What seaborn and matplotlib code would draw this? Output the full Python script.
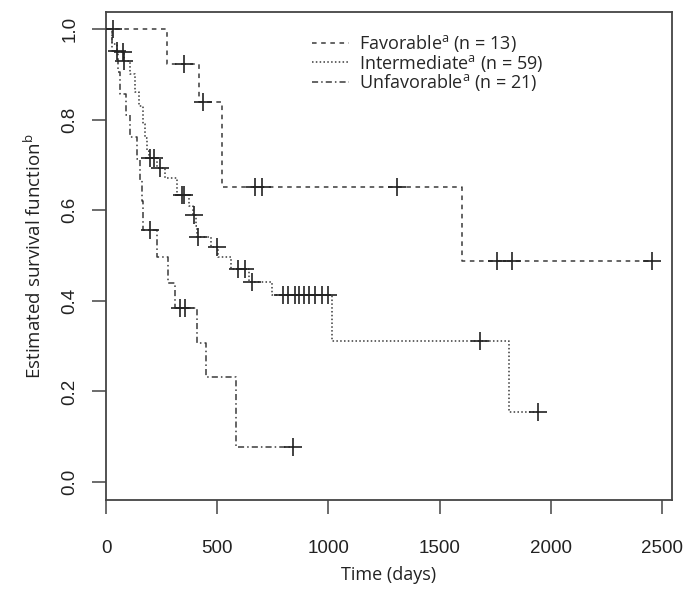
"""Kaplan-Meier curves by risk group, redrawn from the published figure."""
import matplotlib
matplotlib.use("Agg")
import matplotlib.pyplot as plt
import numpy as np
import pandas as pd
import seaborn as sns

# ---------- data ----------
fav_t = [0, 274, 418, 522, 1600]
fav_s = [1.0, 0.923, 0.839, 0.651, 0.488]
fav_cens = [30, 351, 437, 670, 701, 1308, 1758, 1826, 2455]

int_t = [0, 25, 50, 80, 110, 130, 150, 165, 175, 185, 192, 230, 265, 320, 375,
         390, 405, 410, 470, 505, 560, 645, 746, 1016, 1812]
int_s = [1.0, 0.966, 0.949, 0.93, 0.90, 0.86, 0.83, 0.79, 0.76, 0.73, 0.715,
         0.693, 0.67, 0.634, 0.61, 0.589, 0.565, 0.541, 0.519, 0.497, 0.47,
         0.441, 0.413, 0.311, 0.155]
int_cens = [78, 82, 198, 216, 243, 342, 350, 396, 414, 499, 594, 625, 656,
            796, 820, 850, 870, 890, 915, 940, 970, 1000, 1682, 1942]

unf_t = [0, 25, 55, 65, 90, 110, 140, 155, 160, 166, 229, 280, 310, 409, 450, 585]
unf_s = [1.0, 0.952, 0.905, 0.857, 0.81, 0.762, 0.714, 0.667, 0.62, 0.556,
         0.497, 0.44, 0.384, 0.307, 0.232, 0.077]
unf_cens = [50, 198, 333, 355, 841]

groups = ["Favorable", "Intermediate", "Unfavorable"]
n_per_group = [13, 59, 21]
styles = {"Favorable": (0, (3, 3)),
          "Intermediate": (0, (1, 1.5)),
          "Unfavorable": (0, (4, 2, 1, 2))}


def km_frame(name, t, s, cens):
    # extend the last step to the last censored time
    end = max(max(cens), t[-1])
    tt = list(t) + [end]
    ss = list(s) + [s[-1]]
    curve = pd.DataFrame({"time": tt, "surv": ss, "group": name})
    idx = np.searchsorted(t, cens, side="right") - 1
    marks = pd.DataFrame({"time": cens, "surv": np.asarray(s)[idx], "group": name})
    return curve, marks


sns.set_style("white")
plt.rcParams["font.family"] = ["Liberation Sans", "DejaVu Sans"]
plt.rcParams["mathtext.fontset"] = "custom"
plt.rcParams["mathtext.rm"] = "Open Sans"

fig = plt.figure(figsize=(6.87, 5.92), dpi=100)
ax = fig.add_axes([106 / 687, 1 - 500 / 592, 566 / 687, 488 / 592])

data = [(fav_t, fav_s, fav_cens), (int_t, int_s, int_cens), (unf_t, unf_s, unf_cens)]
handles = []
for name, n, (t, s, c) in zip(groups, n_per_group, data):
    curve, marks = km_frame(name, t, s, c)
    sns.lineplot(data=curve, x="time", y="surv", ax=ax, drawstyle="steps-post",
                 color="#3a3a3a", linewidth=1.1, linestyle=styles[name],
                 estimator=None, sort=False)
    sns.scatterplot(data=marks, x="time", y="surv", ax=ax, marker="+",
                    s=170, color="#222222", linewidth=1.2, zorder=4)
    h, = ax.plot([], [], color="#3a3a3a", linewidth=1.1, linestyle=styles[name],
                 label=f"{name}$^{{\\mathrm{{a}}}}$ (n = {n})")
    handles.append(h)

ax.set_xlim(0, 2545)
ax.set_ylim(-0.0397, 1.0375)
ax.set_xticks([0, 500, 1000, 1500, 2000, 2500])
ax.set_yticks([0.0, 0.2, 0.4, 0.6, 0.8, 1.0])
ax.set_yticklabels(["0.0", "0.2", "0.4", "0.6", "0.8", "1.0"], rotation=90,
                   va="center")
ax.tick_params(axis="both", direction="out", length=10, width=1.1,
               color="#444444", labelsize=13.5, bottom=True, left=True,
               labelcolor="#222222")
ax.tick_params(axis="x", pad=19)
ax.tick_params(axis="y", pad=10)
for sp in ax.spines.values():
    sp.set_color("#444444")
    sp.set_linewidth(1.3)

ax.set_xlabel("Time (days)", fontsize=13, family="Open Sans", labelpad=6,
              color="#222222")
ax.set_ylabel("Estimated survival function$^{\\mathrm{b}}$", fontsize=13.5,
              family="Open Sans", labelpad=12, color="#222222")

ax.legend(handles=handles, loc="upper left", bbox_to_anchor=(0.336, 0.99),
          frameon=False, handlelength=2.0, handletextpad=0.6,
          labelspacing=-0.08, prop={"family": "Open Sans", "size": 13})

fig.savefig("out.png", dpi=100)
